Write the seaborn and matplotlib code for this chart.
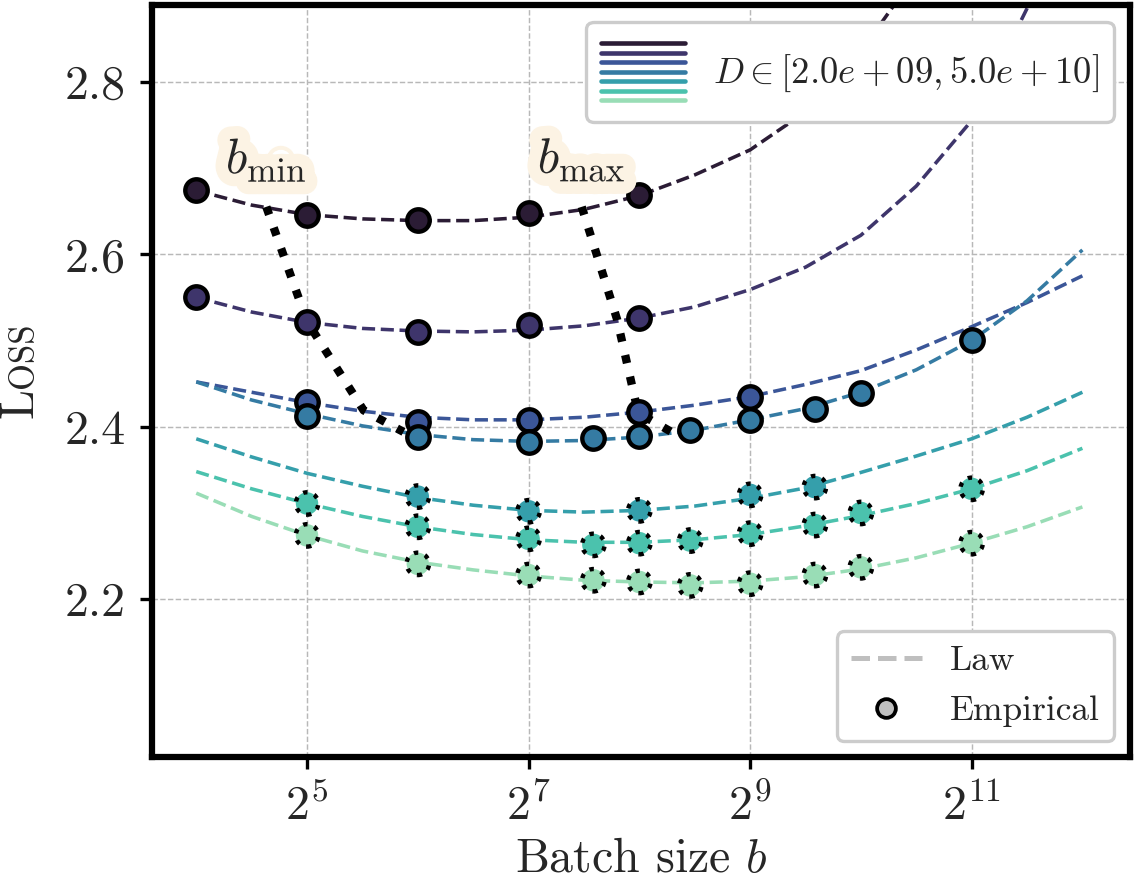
import numpy as np
import pandas as pd
import matplotlib
matplotlib.use("Agg")
import matplotlib.pyplot as plt
import matplotlib.patheffects as pe
from matplotlib.legend_handler import HandlerBase
from matplotlib.lines import Line2D
from matplotlib.ticker import NullLocator
import seaborn as sns

# --- values ---
series = ["D1", "D2", "D3", "D4", "D5", "D6", "D7"]   # smallest D -> largest D
d_range = [2.0e9, 5.0e10]
dotted_series = ["D5", "D6", "D7"]

emp_b = {
    "D1": [16, 32, 64, 128, 256],
    "D2": [16, 32, 64, 128, 256],
    "D3": [32, 64, 128, 256, 512],
    "D4": [32, 64, 128, 192, 256, 352, 512, 768, 1024, 2048],
    "D5": [64, 128, 256, 512, 768],
    "D6": [32, 64, 128, 192, 256, 352, 512, 768, 1024, 2048],
    "D7": [32, 64, 128, 192, 256, 352, 512, 768, 1024, 2048],
}
emp_loss = {
    "D1": [2.675, 2.646, 2.640, 2.648, 2.669],
    "D2": [2.551, 2.521, 2.510, 2.518, 2.526],
    "D3": [2.429, 2.406, 2.408, 2.417, 2.435],
    "D4": [2.413, 2.388, 2.382, 2.387, 2.389, 2.396, 2.408, 2.420, 2.439, 2.501],
    "D5": [2.319, 2.302, 2.303, 2.321, 2.330],
    "D6": [2.311, 2.284, 2.270, 2.263, 2.265, 2.268, 2.276, 2.286, 2.300, 2.328],
    "D7": [2.274, 2.241, 2.228, 2.222, 2.220, 2.216, 2.218, 2.228, 2.237, 2.265],
}

# fitted law, read at these log2(b) positions
law_log2b = [4.0, 4.5, 5.0, 5.5, 6.0, 6.5, 7.0, 7.5, 8.0, 8.5, 9.0, 9.5, 10.0, 10.5, 11.0, 11.5, 12.0]
law_loss = {
    "D1": [2.674, 2.657, 2.646, 2.641, 2.639, 2.639, 2.643, 2.652, 2.668, 2.692, 2.721, 2.765, 2.835, 2.925],
    "D2": [2.550, 2.533, 2.521, 2.514, 2.511, 2.510, 2.512, 2.517, 2.526, 2.539, 2.559, 2.585, 2.622, 2.679, 2.755, 2.885, 3.050],
    "D3": [2.452, 2.440, 2.428, 2.418, 2.411, 2.408, 2.408, 2.411, 2.417, 2.425, 2.435, 2.449, 2.465, 2.489, 2.516, 2.544, 2.575],
    "D4": [2.452, 2.431, 2.415, 2.401, 2.391, 2.385, 2.383, 2.384, 2.388, 2.396, 2.408, 2.421, 2.440, 2.466, 2.500, 2.546, 2.605],
    "D5": [2.386, 2.365, 2.346, 2.331, 2.318, 2.309, 2.303, 2.301, 2.303, 2.308, 2.317, 2.329, 2.347, 2.366, 2.386, 2.411, 2.440],
    "D6": [2.348, 2.328, 2.311, 2.296, 2.284, 2.275, 2.269, 2.266, 2.266, 2.269, 2.275, 2.285, 2.297, 2.311, 2.328, 2.349, 2.375],
    "D7": [2.323, 2.296, 2.274, 2.256, 2.243, 2.234, 2.227, 2.222, 2.220, 2.219, 2.221, 2.226, 2.235, 2.248, 2.265, 2.284, 2.307],
}

# optimal-batch frontier (b_min / b_max) for the first four D
bmin_b = [24.8, 32.0, 45.6, 58.5]
bmin_loss = [2.655, 2.522, 2.419, 2.394]
bmax_b = [178.5, 222.9, 254.2, 312.9]
bmax_loss = [2.655, 2.524, 2.416, 2.394]

xticks = [32, 128, 512, 2048]
yticks = [2.2, 2.4, 2.6, 2.8]

# --- style ---
sns.set_theme(style="whitegrid")
plt.rcParams["font.family"] = ["cmr10", "DejaVu Serif"]
plt.rcParams["mathtext.fontset"] = "cm"
plt.rcParams["axes.formatter.use_mathtext"] = True
palette = dict(zip(series, sns.color_palette("mako", len(series))))

# long-form tables
law_df = pd.DataFrame(
    [(s, 2.0 ** k, v) for s in series for k, v in zip(law_log2b, law_loss[s])],
    columns=["D", "b", "loss"],
)
emp_df = pd.DataFrame(
    [(s, b, v) for s in series for b, v in zip(emp_b[s], emp_loss[s])],
    columns=["D", "b", "loss"],
)

fig = plt.figure(figsize=(3.78, 2.9367), dpi=300)
ax = fig.add_axes([0.134, 0.1407, 0.8625, 0.8536])

sns.lineplot(data=law_df, x="b", y="loss", hue="D", hue_order=series, palette=palette,
             estimator=None, sort=False, linestyle="--", linewidth=0.85, legend=False,
             ax=ax, zorder=2)

for s in series:
    sub = emp_df[emp_df["D"] == s]
    sns.scatterplot(data=sub, x="b", y="loss", color=palette[s], s=29,
                    edgecolor="black", linewidth=1.05,
                    linestyle=":" if s in dotted_series else "-",
                    legend=False, ax=ax, zorder=3)

ax.plot(bmin_b, bmin_loss, color="black", linestyle=":", linewidth=2.0, zorder=2.5)
ax.plot(bmax_b, bmax_loss, color="black", linestyle=":", linewidth=2.0, zorder=2.5)

glow = [pe.withStroke(linewidth=6, foreground="#fcf3e4")]
ax.text(bmin_b[0], bmin_loss[0] + 0.054, r"$b_{\min}$", fontsize=12, ha="center",
        va="center", path_effects=glow, zorder=4)
ax.text(bmax_b[0], bmax_loss[0] + 0.054, r"$b_{\max}$", fontsize=12, ha="center",
        va="center", path_effects=glow, zorder=4)

# axes
ax.set_xscale("log", base=2)
ax.set_xlim(2 ** 3.6, 2 ** 12.43)
ax.set_ylim(2.017, 2.889)
ax.set_xticks(xticks)
ax.xaxis.set_minor_locator(NullLocator())
ax.set_yticks(yticks)
ax.set_yticklabels([f"{v:.1f}" for v in yticks])
ax.tick_params(axis="both", which="major", direction="out", length=2.9, width=0.8,
               color="black", labelsize=11.5, pad=3.5, left=True, bottom=True)
ax.grid(True, linestyle="--", linewidth=0.35, color="0.72")
ax.set_facecolor("white")
for sp in ax.spines.values():
    sp.set_color("black")
    sp.set_linewidth(1.5)
ax.set_xlabel(r"Batch size $b$", fontsize=11.5, labelpad=2)
ax.set_ylabel("")

# small-caps style y label
fig.text(0.0291, 0.5596, "L", fontsize=11.5, rotation=90, rotation_mode="anchor",
         ha="right", va="baseline")
fig.text(0.0291, 0.5596, "OSS", fontsize=8.3, rotation=90, rotation_mode="anchor",
         ha="left", va="baseline")


# legends
class ColorStack:
    def __init__(self, colors):
        self.colors = colors


class StackHandler(HandlerBase):
    def create_artists(self, legend, orig_handle, xdescent, ydescent, width, height,
                       fontsize, trans):
        n = len(orig_handle.colors)
        arts = []
        for i, c in enumerate(orig_handle.colors):
            y = -ydescent + height * (0.9 - 0.8 * i / (n - 1))
            arts.append(Line2D([-xdescent, -xdescent + width], [y, y], color=c,
                               linewidth=1.1, transform=trans))
        return arts


stack = ColorStack([palette[s] for s in series])
label_d = rf"$D \in [{d_range[0]:.1e}, {d_range[1]:.1e}]$"
leg1 = ax.legend([stack], [label_d], handler_map={ColorStack: StackHandler()},
                 loc="upper right", fontsize=8.8, handlelength=2.3, handleheight=2.6,
                 handletextpad=0.75, framealpha=1, fancybox=True, borderaxespad=0.45)
leg1.get_frame().set_edgecolor("0.8")
leg1.get_frame().set_linewidth(0.8)
leg1.set_zorder(5)
ax.add_artist(leg1)

law_h = Line2D([], [], color="0.75", linestyle="--", linewidth=1.2)
emp_h = Line2D([], [], color="0.75", marker="o", linestyle="none", markersize=4.5,
               markeredgecolor="black", markeredgewidth=0.9)
leg2 = ax.legend([law_h, emp_h], ["Law", "Empirical"], loc="lower right", fontsize=8.5,
                 handlelength=2.0, handletextpad=0.8, framealpha=1, fancybox=True,
                 borderaxespad=0.45)
leg2.get_frame().set_edgecolor("0.8")
leg2.get_frame().set_linewidth(0.8)
leg2.set_zorder(5)

fig.savefig("out.png", dpi=300)
